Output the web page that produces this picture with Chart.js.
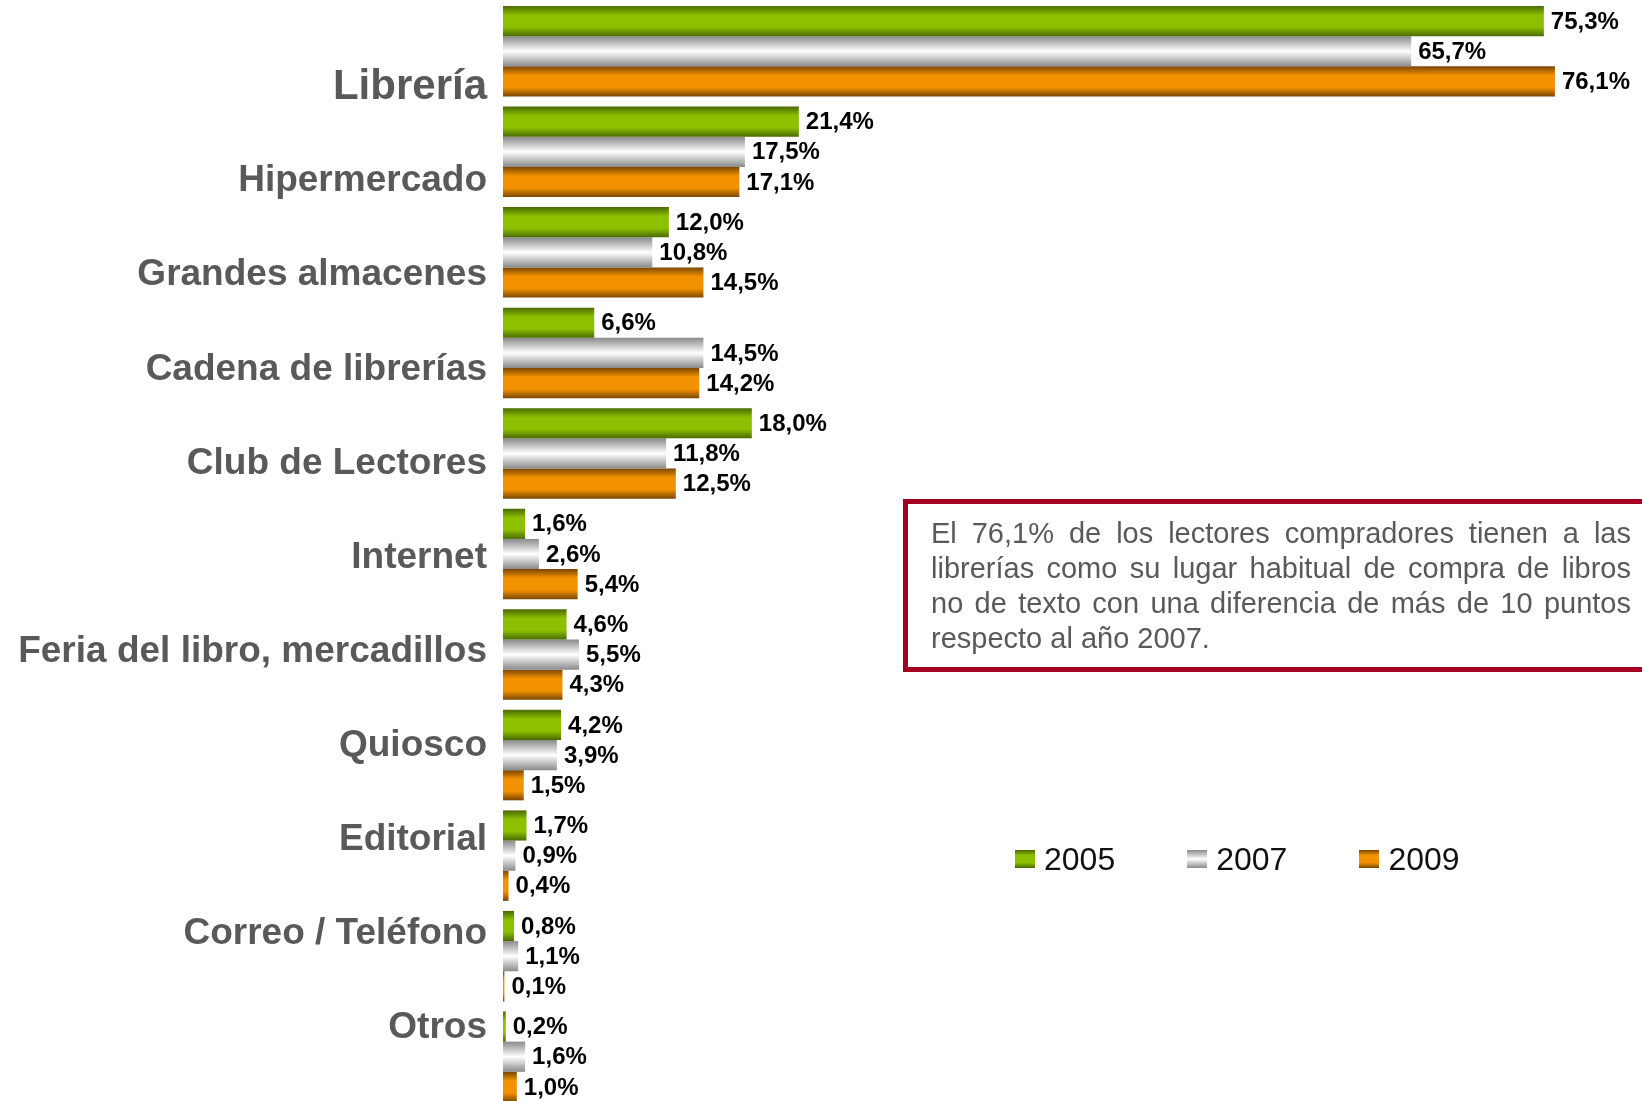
<!DOCTYPE html>
<html lang="es">
<head>
<meta charset="utf-8">
<title>Lugar habitual de compra de libros</title>
<script src="https://cdn.jsdelivr.net/npm/chart.js@4.4.1/dist/chart.umd.min.js"></script>
<style>
  body { margin: 0; width: 1642px; height: 1101px; overflow: hidden; background: #fff; position: relative;
         font-family: "Liberation Sans", Arial, sans-serif; }
  #chart-wrap { position: absolute; left: 0; top: 0; width: 1642px; height: 1107px; }
  #note { position: absolute; left: 903px; top: 499px; width: 780px; height: 173px; box-sizing: border-box;
          border: 5px solid #a50021; padding: 12px 0 0 23px; color: #595959; font-size: 29px; line-height: 35px; }
  #note div { width: 700px; text-align: justify; text-align-last: justify; white-space: nowrap; }
  #note div.last { text-align-last: left; }
  #legend { position: absolute; left: 1015px; top: 841px; display: flex; gap: 72px; font-size: 32px; line-height: 36px; color: #111; }
  .legend-item { display: flex; align-items: center; gap: 9px; }
  .legend-box { width: 20px; height: 18px; }
</style>
</head>
<body>
<div id="chart-wrap"><canvas id="shop-chart"></canvas></div>
<div id="note"></div>
<div id="legend"></div>

<script>
const categories = ["Librería", "Hipermercado", "Grandes almacenes", "Cadena de librerías", "Club de Lectores",
                    "Internet", "Feria del libro, mercadillos", "Quiosco", "Editorial", "Correo / Teléfono", "Otros"];
const years = ["2005", "2007", "2009"];

const values_2005 = [75.3, 21.4, 12.0, 6.6, 18.0, 1.6, 4.6, 4.2, 1.7, 0.8, 0.2];
const values_2007 = [65.7, 17.5, 10.8, 14.5, 11.8, 2.6, 5.5, 3.9, 0.9, 1.1, 1.6];
const values_2009 = [76.1, 17.1, 14.5, 14.2, 12.5, 5.4, 4.3, 1.5, 0.4, 0.1, 1.0];

const note_lines = [
  "El 76,1% de los lectores compradores tienen a las",
  "librerías como su lugar habitual de compra de libros",
  "no de texto con una diferencia de más de 10 puntos",
  "respecto al año 2007."
];

// vertical shading of each series: [stop, colour]
const bar_shades = [
  [[0, "#4a6a00"], [0.3, "#8cc000"], [0.7, "#8cc000"], [1, "#4a6a00"]],
  [[0, "#8a8a8a"], [0.5, "#ffffff"], [1, "#8a8a8a"]],
  [[0, "#7a4600"], [0.3, "#f39200"], [0.7, "#f39200"], [1, "#7a4600"]]
];

const font_family = '"Liberation Sans", Arial, sans-serif';

// range of the label scale (category index units)
const label_min = -0.3815;
const label_max = 10.309;

function formatPct(v) {
  return v.toFixed(1).replace(".", ",") + "%";
}

// per-bar gradient, built from the bar's own position
const bar_gradient_plugin = {
  id: "barGradient",
  beforeDatasetsDraw(chart) {
    const ctx = chart.ctx;
    chart.data.datasets.forEach((ds, di) => {
      chart.getDatasetMeta(di).data.forEach(bar => {
        const top = bar.y - bar.height / 2;
        const g = ctx.createLinearGradient(0, top, 0, top + bar.height);
        bar_shades[di].forEach(([pos, col]) => g.addColorStop(pos, col));
        bar.options.backgroundColor = g;
      });
    });
  }
};

const value_label_plugin = {
  id: "valueLabels",
  afterDatasetsDraw(chart) {
    const ctx = chart.ctx;
    ctx.save();
    ctx.font = "bold 24px " + font_family;
    ctx.fillStyle = "#000";
    ctx.textBaseline = "middle";
    chart.data.datasets.forEach((ds, di) => {
      chart.getDatasetMeta(di).data.forEach((bar, i) => {
        ctx.fillText(formatPct(ds.data[i]), bar.x + 7, bar.y + 1);
      });
    });
    ctx.restore();
  }
};

const series = [values_2005, values_2007, values_2009];

const datasets = years.map((year, i) => ({
  label: year,
  data: series[i],
  xAxisID: "x",
  yAxisID: "y",
  backgroundColor: () => bar_shades[i][1][1],   // scriptable so each bar keeps its own options
  borderWidth: 0,
  categoryPercentage: 0.9,
  barPercentage: 1
}));

const chart_ctx = document.getElementById("shop-chart").getContext("2d");

new Chart(chart_ctx, {
  type: "bar",
  data: { labels: categories, datasets: datasets },
  options: {
    indexAxis: "y",
    responsive: true,
    maintainAspectRatio: false,
    animation: false,
    layout: { padding: { top: 1, right: 0, bottom: 0, left: 0 } },
    plugins: { legend: { display: false }, tooltip: { enabled: false } },
    scales: {
      x: { display: false, min: 0, max: 82.4 },
      y: { display: false },
      // the category names sit on their own, slightly tighter, scale
      yl: {
        type: "linear",
        position: "left",
        reverse: true,
        bounds: "data",
        min: label_min,
        max: label_max,
        grid: { display: false, drawTicks: false },
        border: { display: false },
        afterBuildTicks: (axis) => {
          axis.ticks = categories.map((c, i) => ({ value: i }));
          axis.min = label_min;
          axis.max = label_max;
        },
        afterFit: (axis) => {
          axis.width = 503;
          axis.paddingTop = 0;      // labels don't push the plot area in
          axis.paddingBottom = 0;
        },
        ticks: {
          autoSkip: false,
          padding: 16,
          color: "#595959",
          font: (c) => ({ family: font_family, weight: "bold", size: c.index === 0 ? 42 : 37 }),
          callback: (v) => categories[v]
        }
      }
    }
  },
  plugins: [bar_gradient_plugin, value_label_plugin]
});

// note box
const note = document.getElementById("note");
note_lines.forEach((line, i) => {
  const d = document.createElement("div");
  d.textContent = line;
  if (i === note_lines.length - 1) d.className = "last";
  note.appendChild(d);
});

// legend
const legend = document.getElementById("legend");
years.forEach((year, i) => {
  const item = document.createElement("div");
  item.className = "legend-item";
  const box = document.createElement("span");
  box.className = "legend-box";
  box.style.background = "linear-gradient(to bottom, " +
    bar_shades[i].map(([pos, col]) => col + " " + (pos * 100) + "%").join(", ") + ")";
  const txt = document.createElement("span");
  txt.textContent = year;
  item.appendChild(box);
  item.appendChild(txt);
  legend.appendChild(item);
});
</script>
</body>
</html>
